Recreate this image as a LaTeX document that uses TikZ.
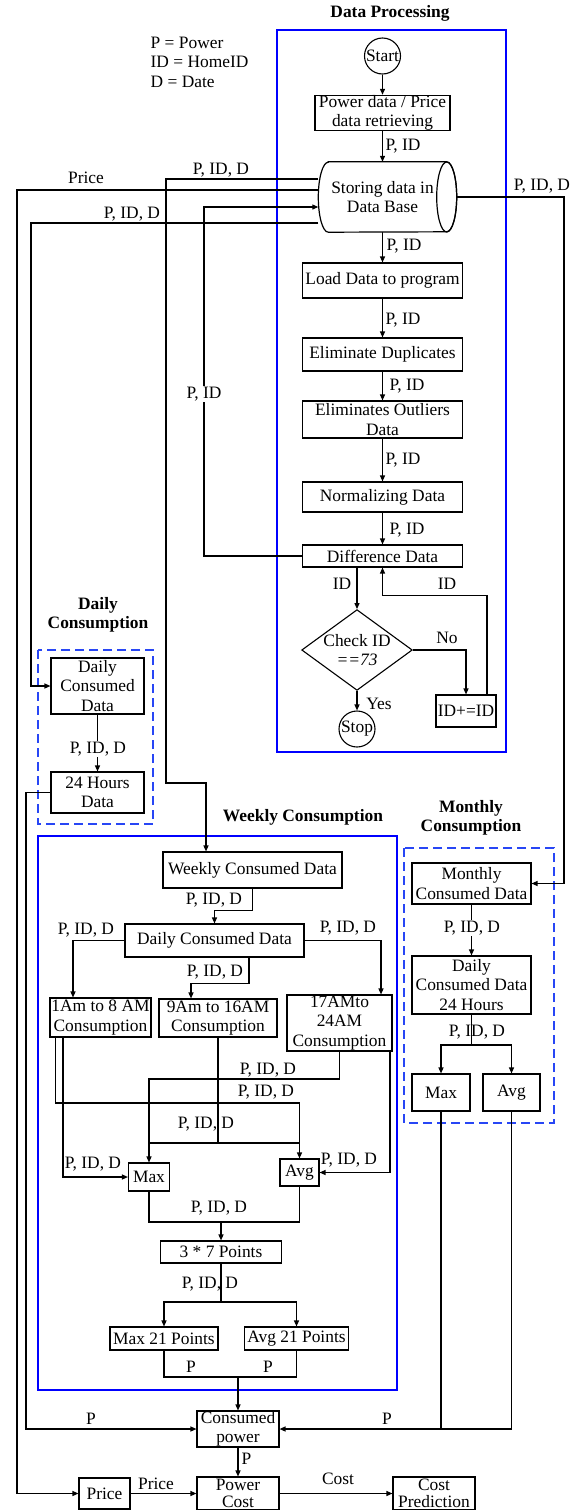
\documentclass[tikz,border=0pt]{standalone}
\usepackage{fontspec}
\setmainfont{Liberation Serif}
\usetikzlibrary{arrows.meta,shapes.geometric,calc}
\definecolor{dblue}{RGB}{40,70,245}
\pgfdeclarelayer{bg}
\pgfsetlayers{bg,main}
\begin{document}
\begin{tikzpicture}[x=1pt,y=-1pt,
  every node/.style={font=\fontsize{17.4}{19.5}\selectfont},
  bx/.style 2 args={draw, line width=1.1pt, fill=white, inner xsep=1pt, inner ysep=0pt, align=center, minimum width=#1, minimum height=#2},
  tight/.style={font=\fontsize{17.4}{17}\selectfont},
  circ/.style={draw, circle, line width=1.1pt, fill=white, inner sep=0pt, minimum size=36pt},
  lbl/.style={inner sep=0.5pt},
  wlbl/.style={inner sep=0.5pt, fill=white},
  ttl/.style={font=\fontsize{17.4}{19.5}\selectfont\bfseries, align=center},
  ln/.style={line width=1.2pt},
  arr/.style={line width=1.2pt, -{Triangle[length=6pt,width=5pt]}},
  jdot/.style={fill=black, draw=none, circle, inner sep=0pt, minimum size=2.6pt},
  grp/.style={draw=blue, line width=1.3pt},
  dgrp/.style={draw=dblue, line width=1.5pt, dash pattern=on 9pt off 5pt}]
\useasboundingbox (0,0) rectangle (571,1510);

% ---------- titles and legend
\node[ttl] (tdp) at (390,13) {Data Processing};
\node[ttl] (tdc) at (98,615) {Daily\\Consumption};
\node[ttl] (twc) at (303,817) {Weekly Consumption};
\node[ttl] (tmc) at (471,818) {Monthly\\Consumption};
\node[lbl, align=left, anchor=west] (legend) at (150,62) {P = Power\\ID = HomeID\\D = Date};

% ---------- data processing
\node[circ] (start) at (382.5,56) {Start};
\node[bx={135pt}{34pt}] (pdr) at (382.5,113) {Power data / Price\\data retrieving};
\node[align=center, inner sep=0pt, minimum width=128pt, minimum height=70pt] (db) at (382.5,197) {Storing data in\\Data Base};
\node[bx={160pt}{35pt}] (load) at (382.5,280.5) {Load Data to program};
\node[bx={160pt}{33pt}] (dup) at (382.5,354.5) {Eliminate Duplicates};
\node[bx={160pt}{37pt}] (outl) at (382.5,419.5) {Eliminates Outliers\\Data};
\node[bx={160pt}{30pt}] (norm) at (382.5,497) {Normalizing Data};
\node[bx={160pt}{22pt}] (diff) at (382.5,556) {Difference Data};
\node[draw, diamond, aspect=1.37, inner sep=0pt, line width=1.1pt, fill=white, align=center] (chk) at (357,650) {Check ID\\\textit{==73}};
\node[bx={60pt}{32pt}] (inc) at (466,711) {ID+=ID};
\node[circ] (stop) at (357,729) {Stop};

% ---------- daily
\node[bx={93pt}{56pt}] (dcd) at (97.5,686) {Daily\\Consumed\\Data};
\node[bx={93pt}{41pt}] (h24) at (97.5,792.5) {24 Hours\\Data};

% ---------- weekly
\node[bx={179pt}{36pt}] (wcd) at (252.5,870) {Weekly Consumed Data};
\node[bx={179pt}{33pt}] (wdcd) at (214.5,940.5) {Daily Consumed Data};
\node[bx={101pt}{39pt}] (am1) at (100.5,1017.5) {1Am to 8 AM\\Consumption};
\node[bx={118pt}{38pt}] (am9) at (218,1018) {9Am to 16AM\\Consumption};
\node[bx={105pt}{56pt}] (am17) at (339.5,1023) {17AMto\\24AM\\Consumption};
\node[bx={41pt}{28pt}] (wmax) at (149,1177) {Max};
\node[bx={39pt}{27pt}] (wavg) at (299.5,1172.5) {Avg};
\node[bx={121pt}{22pt}] (p37) at (221,1252) {3 * 7 Points};
\node[bx={108pt}{23pt}] (max21) at (164,1338.5) {Max 21 Points};
\node[bx={104pt}{23pt}] (avg21) at (296.5,1338.5) {Avg 21 Points};

% ---------- monthly
\node[bx={119pt}{41pt}] (mcd) at (471.5,883.5) {Monthly\\Consumed Data};
\node[bx={119pt}{58pt}] (mdcd) at (471.5,985) {Daily\\Consumed Data\\24 Hours};
\node[bx={58pt}{37pt}] (mmax) at (441,1092.5) {Max};
\node[bx={57pt}{37pt}] (mavg) at (511.5,1092.5) {Avg};

% ---------- bottom
\node[bx={82pt}{36pt}] (cp) at (238,1429) {Consumed\\power};
\node[bx={51pt}{31pt}] (price) at (104.5,1493.5) {Price};
\node[bx={82pt}{33pt}, tight] (pc) at (238,1493.5) {Power\\Cost};
\node[bx={82pt}{33pt}, tight] (cpred) at (434,1493.5) {Cost\\Prediction};

% ---------- routing points
\coordinate (kW) at (166,179);
\coordinate (kWd) at (206,783);
\coordinate (kP) at (17,190);
\coordinate (kR) at (204,207);
\coordinate (kD) at (31,223);
\coordinate (kM) at (564,197);
\coordinate (kH) at (26,1429);
\coordinate (t17) at (149,1079);
\coordinate (t1) at (299.5,1103);
\coordinate (t9) at (218,1143);
\coordinate (tj) at (221,1222);
\coordinate (tp) at (221,1302);
\coordinate (tq) at (238,1377);
\coordinate (tm) at (471.5,1045);

% ---------- labels
\node[lbl, anchor=west] (l1) at (385,146) {P, ID};
\node[lbl, anchor=west] (l2) at (386,246) {P, ID};
\node[lbl, anchor=west] (l3) at (385,320) {P, ID};
\node[lbl, anchor=west] (l4) at (389,386) {P, ID};
\node[lbl, anchor=west] (l5) at (385,460) {P, ID};
\node[lbl, anchor=west] (l6) at (389,530) {P, ID};
\node[lbl] (lid1) at (342,584) {ID};
\node[lbl] (lid2) at (447,584) {ID};
\node[lbl] (lno) at (447,638) {No};
\node[lbl] (lyes) at (379,704) {Yes};
\node[wlbl] (lret) at (204,394) {P, ID};
\node[lbl] (lprice) at (86,178) {Price};
\node[lbl] (lw) at (221,170) {P, ID, D};
\node[lbl] (ld) at (132,214) {P, ID, D};
\node[lbl] (lm) at (542,186) {P, ID, D};
\node[wlbl] (ldd) at (98,749) {P, ID, D};
\node[lbl] (lp1) at (91,1419) {P};
\node[lbl] (lp2) at (387,1419) {P};
\node[lbl] (lw1) at (214,900) {P, ID, D};
\node[lbl] (lw2) at (86,930) {P, ID, D};
\node[lbl] (lw3) at (348,928) {P, ID, D};
\node[lbl] (lw4) at (215,972) {P, ID, D};
\node[lbl] (lw5) at (268,1070) {P, ID, D};
\node[lbl] (lw6) at (266,1092) {P, ID, D};
\node[lbl] (lw7) at (206,1124) {P, ID, D};
\node[lbl] (lw8) at (93,1164) {P, ID, D};
\node[lbl] (lw9) at (349,1160) {P, ID, D};
\node[lbl] (lw10) at (219,1208) {P, ID, D};
\node[lbl] (lw11) at (210,1284) {P, ID, D};
\node[lbl] (lp3) at (191,1367) {P};
\node[lbl] (lp4) at (268,1367) {P};
\node[wlbl] (lm1) at (472,928) {P, ID, D};
\node[lbl] (lm2) at (477,1032) {P, ID, D};
\node[lbl, anchor=west] (lp5) at (241,1459) {P};
\node[lbl] (lpr) at (156,1484) {Price};
\node[lbl] (lcost) at (338,1479) {Cost};

\begin{pgfonlayer}{bg}
% group frames
\draw[grp] (277,30) rectangle (506,752);
\draw[dgrp] (38,650) rectangle (153,824);
\draw[grp] (38,836) rectangle (397,1390);
\draw[dgrp] (404,848) rectangle (554,1123);

% data processing chain
\draw[arr] (start.south) -- (start.south |- pdr.north);
\draw[arr] (pdr.south) -- (pdr.south |- db.north);
\draw[arr] (db.south) -- (load.north);
\draw[arr] (load.south) -- (dup.north);
\draw[arr] (dup.south) -- (outl.north);
\draw[arr] (outl.south) -- (norm.north);
\draw[arr] (norm.south) -- (diff.north);
\draw[arr] (diff.south -| chk.north) -- (chk.north);
\draw[arr] (chk.east) -| (inc.north);
\draw[arr] ([xshift=21pt]inc.north) -- ++(0,-99) -| (diff.south);
\draw[arr] (chk.south) -- (stop.north);

% links with the data base
\draw[arr] (kW -| db.west) -- (kW) |- (kWd) -- (kWd |- wcd.north);
\draw[arr] (kP -| db.west) -- (kP) |- (price.west);
\draw[arr] (diff.west) -| (kR) -- (kR -| db.west);
\draw[arr] (kD -| db.west) -- (kD) |- (dcd.west);
\draw[arr] ([xshift=10pt]db.east) -- (kM) |- (mcd.east);

% data base cylinder
\draw[ln, fill=white] ([xshift=10pt]db.north west) -- (db.north east)
  arc[start angle=90, end angle=-90, x radius=10pt, y radius=35pt]
  -- ([xshift=10pt]db.south west)
  arc[start angle=270, end angle=90, x radius=10pt, y radius=35pt] -- cycle;
\draw[ln] (db.east) ellipse[x radius=10pt, y radius=35pt];

% daily
\draw[arr] (dcd.south) -- (h24.north);
\draw[arr] (h24.west) -| (kH) -- (cp.west);

% weekly
\draw[arr] (wcd.south) -- ++(0,22) -| (wdcd.north);
\draw[arr] (wdcd.west) -| ([xshift=-27.5pt]am1.north);
\draw[arr] (wdcd.east) -| ([xshift=41.5pt]am17.north);
\draw[arr] ([xshift=34.5pt]wdcd.south) -- ++(0,26) -| ([xshift=-27pt]am9.north);
\draw[arr] (am17.south) |- (t17) -- (wmax.north);
\draw[arr] ([xshift=-45pt]am1.south) |- (t1) -- (wavg.north);
\draw[ln] (am9.south) -- (t9);
\draw[ln] (t9 -| wmax.north) -- (t9 -| wavg.north);
\draw[arr] ([xshift=-37.5pt]am1.south) |- (wmax.west);
\draw[arr] ([xshift=50.5pt]am17.south) |- (wavg.east);
\draw[ln] (wmax.south) |- (tj -| wavg.south) -- (wavg.south);
\draw[arr] (tj) -- (p37.north);
\draw[ln] (p37.south) -- (tp);
\draw[arr] (tp) -| (max21.north);
\draw[arr] (tp) -| (avg21.north);
\draw[ln] (max21.south) |- (tq -| avg21.south) -- (avg21.south);
\draw[arr] (tq) -- (cp.north);

% monthly
\draw[arr] (mcd.south) -- (mdcd.north);
\draw[ln] (mdcd.south) -- (tm);
\draw[arr] (tm) -| (mmax.north);
\draw[arr] (tm) -| (mavg.north);
\draw[ln] (mmax.south) -- (mmax.south |- cp.east);
\draw[arr] (mavg.south) |- (cp.east);

% bottom
\draw[arr] (cp.south) -- (pc.north);
\draw[arr] (price.east) -- (pc.west);
\draw[arr] (pc.east) -- (cpred.west);

% crossing marks
\node[jdot] (x1) at (kW |- kP) {};
\node[jdot] (x2) at (kW |- kD) {};
\node[jdot] (x3) at (kR |- kD) {};
\node[jdot] (x4) at (t9 |- t17) {};
\node[jdot] (x5) at (t9 |- t1) {};
\node[jdot] (x6) at (t17 |- t1) {};
\node[jdot] (x7) at ([xshift=-37.5pt]am1.south |- t1) {};
\end{pgfonlayer}
\end{tikzpicture}
\end{document}
